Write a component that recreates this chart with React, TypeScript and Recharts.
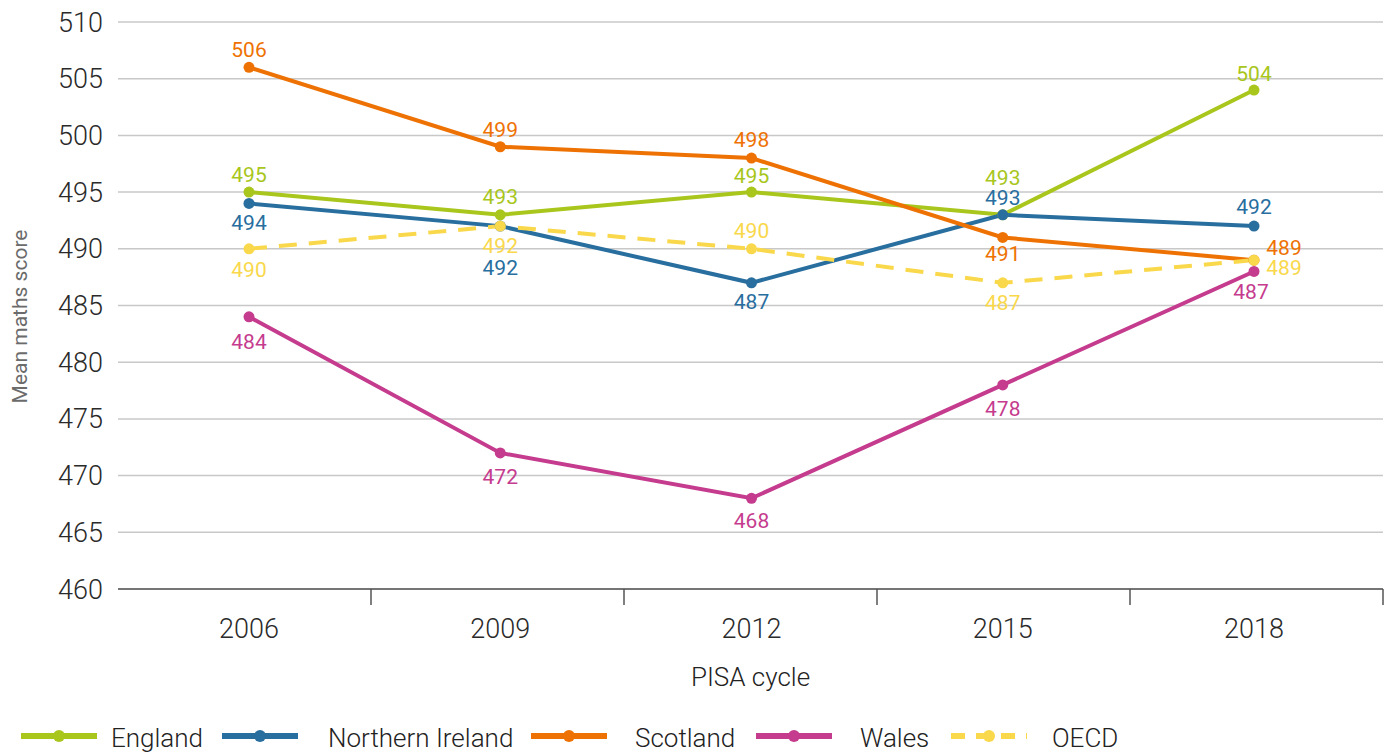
import { CartesianGrid, LabelList, Line, LineChart, XAxis, YAxis } from 'recharts';

const cycles = ['2006', '2009', '2012', '2015', '2018'];
const england = [495, 493, 495, 493, 504];
const northernIreland = [494, 492, 487, 493, 492];
const scotland = [506, 499, 498, 491, 489];
const wales = [484, 472, 468, 478, 488];
const oecd = [490, 492, 490, 487, 489];
// the printed label for Wales 2018 reads 487 although the point sits at 488
const walesLabels = ['484', '472', '468', '478', '487'];
const yTicks = [460, 465, 470, 475, 480, 485, 490, 495, 500, 505, 510];
const frameTicks = [1, 2, 3, 4, 5];

const FONT = 'Roboto, "Noto Sans", sans-serif';

const data = cycles.map((cycle, i) => ({
  cycle,
  england: england[i],
  northernIreland: northernIreland[i],
  scotland: scotland[i],
  wales: wales[i],
  walesLabel: walesLabels[i],
  oecd: oecd[i],
}));

const series = [
  {
    key: 'england', name: 'England', color: '#a8c61c', dashed: false,
    offsets: [[0, -17], [0, -18], [0, -16], [0, -37], [0, -16]],
  },
  {
    key: 'northernIreland', name: 'Northern Ireland', color: '#286e9e', dashed: false,
    offsets: [[0, 20], [0, 42], [0, 19], [0, -17], [0, -19]],
  },
  {
    key: 'scotland', name: 'Scotland', color: '#ee7203', dashed: false,
    offsets: [[0, -17], [0, -17], [0, -18], [0, 17], [30, -12]],
  },
  {
    key: 'wales', name: 'Wales', color: '#c53b8e', dashed: false, labelKey: 'walesLabel',
    offsets: [[0, 25], [0, 24], [0, 23], [0, 24], [-3, 21]],
  },
  {
    key: 'oecd', name: 'OECD', color: '#f9d84c', dashed: true,
    offsets: [[0, 21], [0, 20], [0, -18], [0, 20], [30, 8]],
  },
];

const legendLayout = [
  { icon: 20, text: 111 },
  { icon: 221, text: 328 },
  { icon: 530, text: 635 },
  { icon: 755, text: 860 },
  { icon: 950, text: 1052 },
];

function makeLabel(color: string, offsets: number[][]) {
  return (props: any) => {
    const { x, y, value, index } = props;
    const [dx, dy] = offsets[index] || [0, 0];
    return (
      <text
        x={x + dx}
        y={y + dy}
        fill={color}
        fontSize={21}
        fontFamily={FONT}
        textAnchor="middle"
        dominantBaseline="central"
      >
        {value}
      </text>
    );
  };
}

function YLabel(props: any) {
  const vb = props.viewBox || {};
  const cx = 20;
  const cy = vb.y + vb.height / 2 + 11;
  return (
    <text
      x={cx}
      y={cy}
      transform={`rotate(-90 ${cx} ${cy})`}
      textAnchor="middle"
      dominantBaseline="central"
      fill="#6b6b6b"
      fontSize={21}
      fontFamily={FONT}
    >
      Mean maths score
    </text>
  );
}

function XLabel(props: any) {
  const vb = props.viewBox || {};
  return (
    <text
      x={vb.x + vb.width / 2}
      y={vb.y + 87}
      textAnchor="middle"
      dominantBaseline="central"
      fill="#222"
      fontSize={26}
      fontWeight={300}
      fontFamily={FONT}
    >
      PISA cycle
    </text>
  );
}

function NoTickText() {
  return <g />;
}

function LegendIcon({ color, dashed }: { color: string; dashed: boolean }) {
  return (
    <svg width={78} height={16} style={{ display: 'block' }}>
      <line
        x1={1}
        y1={8}
        x2={77}
        y2={8}
        stroke={color}
        strokeWidth={6}
        strokeDasharray={dashed ? '14 11' : undefined}
      />
      <circle cx={39} cy={8} r={6} fill={color} />
    </svg>
  );
}

export default function App() {
  return (
    <div style={{ position: 'absolute', left: 0, top: 0, width: 1391, height: 753, background: '#fff', fontFamily: FONT }}>
      <LineChart width={1391} height={753} data={data} margin={{ top: 22, right: 8, left: 0, bottom: 63 }}>
        <CartesianGrid xAxisId="cat" vertical={false} stroke="#c8c8c8" strokeWidth={1.5} />
        {/* frame axis: draws the base line and the tick marks between cycles */}
        <XAxis
          xAxisId={0}
          dataKey="frame"
          type="number"
          domain={[0, 5]}
          ticks={frameTicks}
          interval={0}
          allowDataOverflow
          height={1}
          tick={<NoTickText />}
          tickSize={16}
          axisLine={{ stroke: '#555', strokeWidth: 1.5 }}
          tickLine={{ stroke: '#555', strokeWidth: 1.5 }}
        />
        <XAxis
          xAxisId="cat"
          dataKey="cycle"
          height={100}
          padding={{ left: 131, right: 129 }}
          axisLine={false}
          tickLine={false}
          tickSize={0}
          tickMargin={29}
          interval={0}
          tick={{ fill: '#2a2a2a', fontSize: 27, fontWeight: 300, fontFamily: FONT }}
          label={<XLabel />}
        />
        <YAxis
          width={118}
          domain={[460, 510]}
          ticks={yTicks}
          interval={0}
          axisLine={false}
          tickLine={false}
          tickSize={0}
          tickMargin={15}
          tick={{ fill: '#2a2a2a', fontSize: 27, fontWeight: 300, fontFamily: FONT }}
          label={<YLabel />}
        />
        {series.map((s) => (
          <Line
            key={s.key}
            xAxisId="cat"
            dataKey={s.key}
            name={s.name}
            stroke={s.color}
            strokeWidth={4}
            strokeDasharray={s.dashed ? '18 12' : undefined}
            dot={{ r: 5.5, fill: s.color, stroke: 'none' }}
            activeDot={false}
            isAnimationActive={false}
          >
            <LabelList dataKey={s.labelKey || s.key} content={makeLabel(s.color, s.offsets)} />
          </Line>
        ))}
      </LineChart>
      {series.map((s, i) => (
        <div key={s.key}>
          <div style={{ position: 'absolute', left: legendLayout[i].icon, top: 728 }}>
            <LegendIcon color={s.color} dashed={s.dashed} />
          </div>
          <div
            style={{
              position: 'absolute',
              left: legendLayout[i].text,
              top: 721,
              fontSize: 26,
              fontWeight: 300,
              lineHeight: '34px',
              color: '#222',
              whiteSpace: 'nowrap',
            }}
          >
            {s.name}
          </div>
        </div>
      ))}
    </div>
  );
}
